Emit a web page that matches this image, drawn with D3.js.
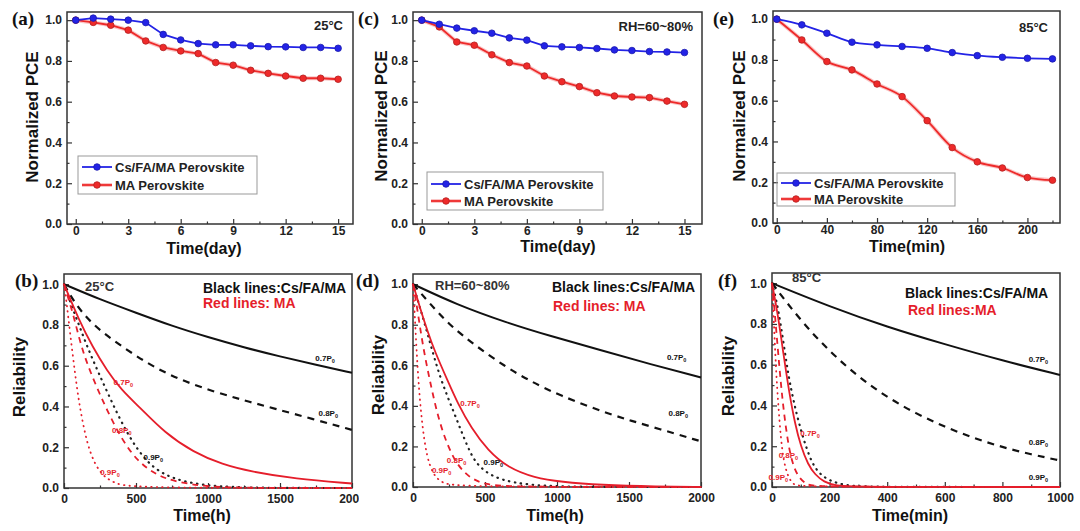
<!DOCTYPE html>
<html>
<head>
<meta charset="utf-8">
<script src="https://cdn.jsdelivr.net/npm/d3@7"></script>
<style>
body { margin:0; background:#fff; }
svg { display:block; font-family:"Liberation Sans", Arial, sans-serif; }
</style>
</head>
<body>
<svg id="fig" width="1080" height="531"></svg>
<script>
// ---------- data: top row, normalized PCE ----------
var days = [0,1,2,3,4,5,6,7,8,9,10,11,12,13,14,15];
var mins = [0,20,40,60,80,100,120,140,160,180,200,220];

// (a) 25°C
var aCsFaMa = [1.0,1.01,1.005,1.0,0.988,0.93,0.903,0.885,0.879,0.879,0.874,0.870,0.869,0.866,0.866,0.862];
var aMA     = [1.0,0.989,0.975,0.951,0.898,0.866,0.849,0.836,0.792,0.779,0.754,0.739,0.726,0.715,0.715,0.71];
// (c) RH=60~80%
var cCsFaMa = [1.0,0.98,0.961,0.948,0.936,0.913,0.902,0.874,0.869,0.866,0.861,0.854,0.851,0.846,0.844,0.841];
var cMA     = [1.0,0.967,0.893,0.877,0.83,0.792,0.775,0.726,0.698,0.674,0.644,0.628,0.623,0.62,0.603,0.587];
// (e) 85°C
var eCsFaMa = [1.0,0.972,0.931,0.887,0.874,0.866,0.857,0.836,0.821,0.813,0.808,0.805];
var eMA     = [1.0,0.898,0.792,0.751,0.682,0.62,0.502,0.37,0.30,0.27,0.223,0.21];

// ---------- data: bottom row, reliability [time, R] ----------
// (b) 25°C, hours
var bBlackSolid = [[0,1],[250,0.925],[500,0.86],[750,0.795],[1000,0.74],[1250,0.69],[1500,0.645],[1750,0.605],[2000,0.565]];
var bBlackDash  = [[0,1],[80,0.9],[200,0.8],[370,0.71],[580,0.61],[790,0.535],[1030,0.475],[1250,0.43],[1460,0.39],[1720,0.34],[2000,0.285]];
var bBlackDot   = [[0,1],[60,0.88],[120,0.77],[180,0.66],[300,0.47],[440,0.26],[580,0.12],[700,0.065],[810,0.035],[1000,0.01],[1300,0],[2000,0]];
var bRedSolid   = [[0,1],[100,0.83],[200,0.69],[300,0.575],[400,0.48],[520,0.4],[700,0.27],[900,0.175],[1100,0.115],[1300,0.08],[1600,0.045],[2000,0.022]];
var bRedDash    = [[0,1],[30,0.93],[65,0.85],[110,0.72],[160,0.61],[230,0.49],[300,0.38],[400,0.24],[510,0.13],[650,0.06],[780,0.03],[1000,0.005],[1300,0],[2000,0]];
var bRedDot     = [[0,1],[20,0.9],[42,0.76],[77,0.56],[100,0.44],[135,0.3],[180,0.17],[250,0.07],[350,0.02],[500,0],[2000,0]];
// (d) RH=60~80%, hours
var dBlackSolid = [[0,1],[300,0.9],[650,0.81],[950,0.745],[1300,0.675],[1650,0.605],[2000,0.54]];
var dBlackDash  = [[0,1],[104,0.915],[250,0.8],[428,0.7],[636,0.595],[820,0.52],[1006,0.455],[1367,0.357],[1645,0.3],[2000,0.225]];
var dBlackDot   = [[0,1],[50,0.88],[100,0.76],[185,0.54],[289,0.36],[382,0.19],[442,0.11],[550,0.05],[700,0.02],[900,0.005],[1200,0],[2000,0]];
var dRedSolid   = [[0,1],[50,0.88],[100,0.77],[150,0.67],[243,0.52],[312,0.41],[405,0.29],[520,0.18],[659,0.095],[844,0.045],[1029,0.025],[1300,0.01],[1700,0.002],[2000,0]];
var dRedDash    = [[0,1],[30,0.88],[69,0.69],[127,0.49],[185,0.31],[278,0.135],[380,0.05],[500,0.01],[700,0],[2000,0]];
var dRedDot     = [[0,1],[10,0.88],[20,0.74],[30,0.61],[45,0.45],[65,0.3],[95,0.15],[140,0.06],[200,0.02],[300,0],[2000,0]];
// (f) 85°C, minutes
var fBlackSolid = [[0,1],[200,0.885],[400,0.785],[600,0.7],[800,0.62],[1000,0.55]];
var fBlackDash  = [[0,1],[100,0.815],[200,0.665],[300,0.54],[400,0.44],[500,0.36],[600,0.295],[700,0.24],[800,0.195],[900,0.16],[1000,0.13]];
var fBlackDot   = [[0,1],[15,0.92],[30,0.8],[45,0.66],[60,0.52],[89,0.33],[130,0.14],[160,0.07],[199,0.03],[260,0.005],[350,0],[1000,0]];
var fRedSolid   = [[0,1],[20,0.85],[40,0.65],[60,0.46],[80,0.31],[100,0.2],[125,0.11],[150,0.06],[180,0.025],[220,0.005],[300,0],[1000,0]];
var fRedDash    = [[0,1],[10,0.85],[20,0.68],[30,0.52],[40,0.38],[55,0.22],[70,0.12],[90,0.05],[120,0.01],[160,0],[1000,0]];
var fRedDot     = [[0,1],[5,0.85],[10,0.7],[15,0.55],[22,0.4],[30,0.25],[40,0.13],[55,0.05],[75,0.01],[100,0],[1000,0]];

var BLUE = "#2323e6", RED = "#ee2a2a", RED2 = "#e51e2b";

var svg = d3.select("#fig");

function range(a, b, s) { return d3.range(a, b + s / 2, s); }

// axes with inward ticks, frame box
function axes(g, x, y, o) {
  var x0 = x.range()[0], x1 = x.range()[1], y0 = y.range()[0], y1 = y.range()[1];
  g.append("rect").attr("x", x0).attr("y", y1).attr("width", x1 - x0).attr("height", y0 - y1)
    .attr("fill", "none").attr("stroke", "#333").attr("stroke-width", 1.5);

  g.append("g").attr("transform", "translate(0," + y0 + ")")
    .call(d3.axisBottom(x).tickValues(o.xMinor).tickSize(-2.5).tickFormat(""))
    .call(function(s) { s.select(".domain").remove(); });
  g.append("g").attr("class", "xax").attr("transform", "translate(0," + y0 + ")")
    .call(d3.axisBottom(x).tickValues(o.xTicks).tickSizeInner(-5).tickSizeOuter(0).tickPadding(o.xPad).tickFormat(d3.format("d")))
    .call(function(s) { s.select(".domain").remove(); });

  g.append("g").attr("transform", "translate(" + x0 + ",0)")
    .call(d3.axisLeft(y).tickValues(range(0.1, 0.9, 0.2)).tickSize(-2.5).tickFormat(""))
    .call(function(s) { s.select(".domain").remove(); });
  g.append("g").attr("transform", "translate(" + x0 + ",0)")
    .call(d3.axisLeft(y).tickValues(range(0, 1, 0.2)).tickSizeInner(-5).tickSizeOuter(0).tickPadding(5).tickFormat(d3.format(".1f")))
    .call(function(s) { s.select(".domain").remove(); });

  g.selectAll(".tick line").attr("stroke", "#333").attr("stroke-width", 1.2);
  g.selectAll(".tick text").attr("font-size", 12).attr("font-weight", "bold").attr("fill", "#222")
    .attr("font-family", "Liberation Sans, Arial, sans-serif");

  // axis titles
  g.append("text").attr("x", o.xtX).attr("y", o.xtY).attr("text-anchor", "middle")
    .attr("font-size", 16).attr("font-weight", "bold").attr("fill", "#111").text(o.xTitle);
  g.append("text").attr("transform", "translate(" + o.ytX + "," + o.ytY + ") rotate(-90)")
    .attr("text-anchor", "middle").attr("font-size", 17).attr("font-weight", "bold").attr("fill", "#111").text(o.yTitle);
  // panel letter
  g.append("text").attr("x", o.lx).attr("y", o.ly).attr("font-family", "Liberation Serif, Times New Roman, serif")
    .attr("font-size", 19).attr("font-weight", "bold").attr("fill", "#111").text(o.letter);
}

function seriesTop(g, x, y, xs, vals, color, curve) {
  var pts = xs.map(function(d, i) { return [d, vals[i]]; });
  var line = d3.line().x(function(d) { return x(d[0]); }).y(function(d) { return y(d[1]); }).curve(curve);
  if (color === RED) {
    g.append("path").attr("d", line(pts)).attr("fill", "none").attr("stroke", "#f7a0a0").attr("stroke-width", 4).attr("opacity", 0.6);
  }
  g.append("path").attr("d", line(pts)).attr("fill", "none").attr("stroke", color).attr("stroke-width", 1.8);
  g.selectAll(null).data(pts).enter().append("circle")
    .attr("cx", function(d) { return x(d[0]); }).attr("cy", function(d) { return y(d[1]); })
    .attr("r", 3.3).attr("fill", color).attr("stroke", d3.color(color).darker(0.8)).attr("stroke-width", 0.8);
}

function topPanel(o) {
  var g = svg.append("g");
  var x = d3.scaleLinear().domain(o.xDomain).range([o.left, o.left + o.w]);
  var y = d3.scaleLinear().domain([0, 1.04]).range([o.top + o.h, o.top]);
  axes(g, x, y, o);
  seriesTop(g, x, y, o.xs, o.red, RED, o.curve);
  seriesTop(g, x, y, o.xs, o.blue, BLUE, o.curve);

  // legend
  var L = o.legend;
  g.append("rect").attr("x", L.x).attr("y", L.y).attr("width", L.w).attr("height", L.h)
    .attr("fill", "none").attr("stroke", "#999").attr("stroke-width", 1);
  [["Cs/FA/MA Perovskite", BLUE], ["MA Perovskite", RED]].forEach(function(e, i) {
    var yy = L.y + L.r0 + i * L.dr;
    if (e[1] === RED) g.append("line").attr("x1", L.x + 4).attr("x2", L.x + 34).attr("y1", yy).attr("y2", yy)
      .attr("stroke", "#f7a0a0").attr("stroke-width", 4).attr("opacity", 0.6);
    g.append("line").attr("x1", L.x + 4).attr("x2", L.x + 34).attr("y1", yy).attr("y2", yy)
      .attr("stroke", e[1]).attr("stroke-width", 1.8);
    g.append("circle").attr("cx", L.x + 19).attr("cy", yy).attr("r", 3.3).attr("fill", e[1])
      .attr("stroke", d3.color(e[1]).darker(0.8)).attr("stroke-width", 0.8);
    g.append("text").attr("x", L.x + 37).attr("y", yy + 4.5).attr("font-size", 13).attr("font-weight", "bold")
      .attr("fill", "#222").text(e[0]);
  });
  g.append("text").attr("x", o.note[0]).attr("y", o.note[1]).attr("text-anchor", "end")
    .attr("font-size", 13).attr("font-weight", "bold").attr("fill", "#222").text(o.note[2]);
}

function pLabel(g, x, y, t, r, s, color) {
  var tx = g.append("text").attr("x", x(t)).attr("y", y(r) + 3).attr("text-anchor", "middle")
    .attr("font-size", 8).attr("font-weight", "bold").attr("fill", color);
  tx.append("tspan").text(s + "P");
  tx.append("tspan").attr("dy", 2).attr("font-size", 5.5).text("0");
}

function bottomPanel(o) {
  var g = svg.append("g");
  if (o.clip) {
    svg.append("clipPath").attr("id", o.clip.id).append("rect")
      .attr("x", o.clip.x).attr("y", 0).attr("width", o.clip.w).attr("height", 531);
    g.attr("clip-path", "url(#" + o.clip.id + ")");
  }
  var x = d3.scaleLinear().domain(o.xDomain).range([o.left, o.left + o.w]);
  var y = d3.scaleLinear().domain([0, 1.05]).range([o.top + o.h, o.top]);
  axes(g, x, y, o);

  var line = d3.line().x(function(d) { return x(d[0]); }).y(function(d) { return y(d[1]); })
    .curve(d3.curveBasis);
  var styles = [
    [o.curves[0], "#111", 2, null],
    [o.curves[1], "#111", 2.2, "7,6"],
    [o.curves[2], "#222", 2.2, "0.5,5.5"],
    [o.curves[3], RED2, 1.8, null],
    [o.curves[4], RED2, 1.8, "6,5"],
    [o.curves[5], RED2, 1.8, "0.5,5"]
  ];
  styles.forEach(function(s) {
    g.append("path").attr("d", line(s[0])).attr("fill", "none").attr("stroke", s[1])
      .attr("stroke-width", s[2]).attr("stroke-dasharray", s[3]).attr("stroke-linecap", s[3] && s[3][0] === "0" ? "round" : "butt");
  });

  o.plabels.forEach(function(p) { pLabel(g, x, y, p[0], p[1], p[2], p[3]); });

  g.append("text").attr("x", o.cond[0]).attr("y", o.cond[1]).attr("font-size", 13).attr("font-weight", "bold")
    .attr("fill", "#333").text(o.cond[2]);
  g.append("text").attr("x", o.black[0]).attr("y", o.black[1]).attr("font-size", 14).attr("font-weight", "bold")
    .attr("fill", "#111").text("Black lines:Cs/FA/MA");
  g.append("text").attr("x", o.red[0]).attr("y", o.red[1]).attr("font-size", 14).attr("font-weight", "bold")
    .attr("fill", RED2).text(o.red[2]);
}

// ---------- top row ----------
topPanel({
  left: 67, top: 12, w: 286, h: 212, xDomain: [-0.5, 15.85], xs: days, blue: aCsFaMa, red: aMA,
  curve: d3.curveLinear, xTicks: range(0, 15, 3), xMinor: range(1.5, 13.5, 3), xPad: 2,
  xTitle: "Time(day)", xtX: 204, xtY: 254, yTitle: "Normalized PCE", ytX: 38, ytY: 117,
  letter: "(a)", lx: 12, ly: 25,
  legend: { x: 78, y: 156, w: 179, h: 38, r0: 11, dr: 18 },
  note: [343, 30, "25°C"]
});
topPanel({
  left: 413, top: 12, w: 289, h: 212, xDomain: [-0.5, 16], xs: days, blue: cCsFaMa, red: cMA,
  curve: d3.curveLinear, xTicks: range(0, 15, 3), xMinor: range(1.5, 13.5, 3), xPad: 2,
  xTitle: "Time(day)", xtX: 558, xtY: 252, yTitle: "Normalized PCE", ytX: 387, ytY: 116,
  letter: "(c)", lx: 358, ly: 25,
  legend: { x: 427, y: 172, w: 176, h: 38, r0: 12, dr: 17 },
  note: [693, 31, "RH=60~80%"]
});
topPanel({
  left: 773, top: 11, w: 287, h: 212, xDomain: [-3, 226], xs: mins, blue: eCsFaMa, red: eMA,
  curve: d3.curveMonotoneX, xTicks: range(0, 200, 40), xMinor: range(20, 220, 40), xPad: 2,
  xTitle: "Time(min)", xtX: 907, xtY: 252, yTitle: "Normalized PCE", ytX: 745, ytY: 116,
  letter: "(e)", lx: 713, ly: 25,
  legend: { x: 777, y: 173, w: 178, h: 33, r0: 10, dr: 16 },
  note: [1048, 32, "85°C"]
});

// ---------- bottom row ----------
var K = "#111";
bottomPanel({
  left: 64, top: 274, w: 288, h: 214, xDomain: [0, 2000],
  xTicks: range(0, 2000, 500), xMinor: range(250, 1750, 500), xPad: 6,
  xTitle: "Time(h)", xtX: 202, xtY: 521, yTitle: "Reliability", ytX: 25, ytY: 377,
  letter: "(b)", lx: 15, ly: 287, clip: { id: "cb", x: 0, w: 359 },
  curves: [bBlackSolid, bBlackDash, bBlackDot, bRedSolid, bRedDash, bRedDot],
  plabels: [[1813, 0.64, "0.7", K], [1835, 0.37, "0.8", K], [620, 0.154, "0.9", K],
            [412, 0.52, "0.7", RED2], [401, 0.286, "0.8", RED2], [319, 0.08, "0.9", RED2]],
  cond: [85, 291, "25°C"], black: [203, 293], red: [203, 308, "Red lines: MA"]
});
bottomPanel({
  left: 413, top: 274, w: 288, h: 213, xDomain: [0, 2000],
  xTicks: range(0, 2000, 500), xMinor: range(250, 1750, 500), xPad: 6,
  xTitle: "Time(h)", xtX: 555, xtY: 521, yTitle: "Reliability", ytX: 384, ytY: 375,
  letter: "(d)", lx: 356, ly: 287,
  curves: [dBlackSolid, dBlackDash, dBlackDot, dRedSolid, dRedDash, dRedDot],
  plabels: [[1831, 0.642, "0.7", K], [1842, 0.363, "0.8", K], [558, 0.125, "0.9", K],
            [396, 0.412, "0.7", RED2], [303, 0.133, "0.8", RED2], [199, 0.084, "0.9", RED2]],
  cond: [435, 290, "RH=60~80%"], black: [552, 292], red: [553, 311, "Red lines: MA"]
});
bottomPanel({
  left: 772, top: 273, w: 288, h: 214, xDomain: [0, 1000],
  xTicks: range(0, 1000, 200), xMinor: range(100, 900, 200), xPad: 6,
  xTitle: "Time(min)", xtX: 910, xtY: 521, yTitle: "Reliability", ytX: 734, ytY: 376,
  letter: "(f)", lx: 718, ly: 287,
  curves: [fBlackSolid, fBlackDash, fBlackDot, fRedSolid, fRedDash, fRedDot],
  plabels: [[925, 0.626, "0.7", K], [925, 0.223, "0.8", K], [925, 0.05, "0.9", K],
            [132, 0.265, "0.7", RED2], [57, 0.158, "0.8", RED2], [22, 0.05, "0.9", RED2]],
  cond: [792, 282, "85°C"], black: [905, 298], red: [908, 315, "Red lines:MA"]
});
</script>
</body>
</html>
